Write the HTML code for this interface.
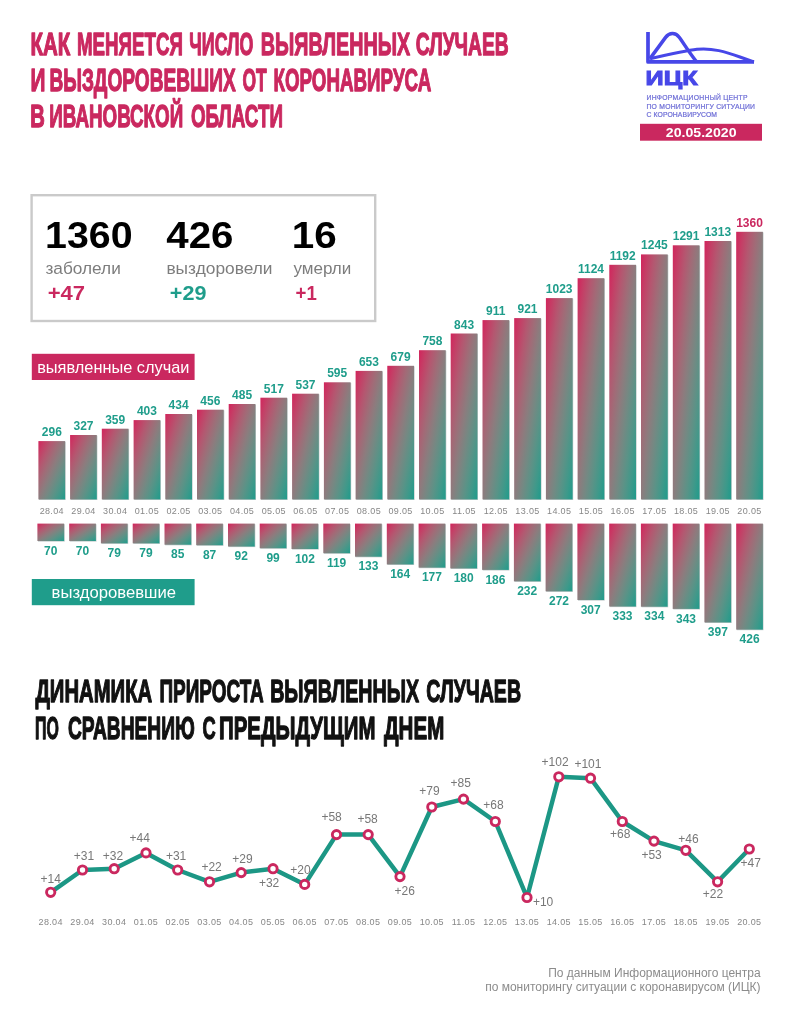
<!DOCTYPE html>
<html lang="ru"><head><meta charset="utf-8"><title>Коронавирус в Ивановской области</title>
<style>
html,body{margin:0;padding:0;background:#fff}
body{width:794px;height:1024px;overflow:hidden;font-family:"Liberation Sans",sans-serif}
svg{display:block}
text{font-family:"Liberation Sans",sans-serif}
.t1{font-weight:bold;font-size:31.5px;fill:#ca285f;stroke:#ca285f;stroke-width:1.3px;stroke-linejoin:round}
.t2{font-weight:bold;font-size:31.5px;fill:#111;stroke:#111;stroke-width:1.3px;stroke-linejoin:round}
.v{font-weight:bold;font-size:12px;fill:#1f9d8b;text-anchor:middle}
.d{font-size:9px;letter-spacing:.35px;fill:#878787;text-anchor:middle}
.g{font-size:12px;fill:#777}
.big{font-weight:bold;font-size:36px;fill:#000}
.lab{font-size:16.8px;fill:#7d7d7d}
.dl{font-weight:bold;font-size:20px}
.tag{font-size:17px;fill:#fff}
.ft{font-size:12px;fill:#8c8c8c;text-anchor:end}
.lg{font-size:6.8px;fill:#6c6cd6;stroke:#6c6cd6;stroke-width:.2px}
</style></head><body>
<svg width="794" height="1024" viewBox="0 0 794 1024">
<defs>
<linearGradient id="gb" x1="0" y1="0" x2="1" y2="1"><stop offset="0.000" stop-color="#d2245c"/><stop offset="0.125" stop-color="#c43f66"/><stop offset="0.250" stop-color="#b45770"/><stop offset="0.375" stop-color="#a16b77"/><stop offset="0.500" stop-color="#8c7c7e"/><stop offset="0.625" stop-color="#748983"/><stop offset="0.750" stop-color="#5a9387"/><stop offset="0.875" stop-color="#3e998a"/><stop offset="1.000" stop-color="#1f9b8b"/></linearGradient>
</defs>
<rect width="794" height="1024" fill="#fff"/>

<g class="t1"><text x="30.40" y="55.1" textLength="39.80" lengthAdjust="spacingAndGlyphs">КАК</text> <text x="77.03" y="55.1" textLength="105.84" lengthAdjust="spacingAndGlyphs">МЕНЯЕТСЯ</text> <text x="189.33" y="55.1" textLength="64.14" lengthAdjust="spacingAndGlyphs">ЧИСЛО</text> <text x="260.85" y="55.1" textLength="149.25" lengthAdjust="spacingAndGlyphs">ВЫЯВЛЕННЫХ</text> <text x="415.74" y="55.1" textLength="93.00" lengthAdjust="spacingAndGlyphs">СЛУЧАЕВ</text></g>
<g class="t1"><text x="30.39" y="90.8" textLength="14.95" lengthAdjust="spacingAndGlyphs">И</text> <text x="49.39" y="90.8" textLength="186.30" lengthAdjust="spacingAndGlyphs">ВЫЗДОРОВЕВШИХ</text> <text x="242.43" y="90.8" textLength="24.28" lengthAdjust="spacingAndGlyphs">ОТ</text> <text x="273.47" y="90.8" textLength="157.75" lengthAdjust="spacingAndGlyphs">КОРОНАВИРУСА</text></g>
<g class="t1"><text x="30.21" y="126.7" textLength="14.57" lengthAdjust="spacingAndGlyphs">В</text> <text x="49.27" y="126.7" textLength="133.91" lengthAdjust="spacingAndGlyphs">ИВАНОВСКОЙ</text> <text x="190.89" y="126.7" textLength="92.09" lengthAdjust="spacingAndGlyphs">ОБЛАСТИ</text></g>
<g fill="none" stroke="#4747e8" stroke-width="3.7" stroke-linejoin="round">
<path d="M648 32 V61.9 H754"/>
<path d="M650 58.6 L665.6 37.4 C669.4 32.4 675.4 32.2 679.2 37.2 C683.6 43 688 51 696.4 61.5" stroke-width="3.5"/>
<path stroke-width="3" d="M650 58.8 C664 55.6 686 50.6 697 49.3 C712 47.6 726 52 740 57 C746 59.2 750 60.6 754 61.9"/>
</g>
<text x="645.6" y="85.3" font-weight="bold" font-size="20" fill="#4747e8" stroke="#4747e8" stroke-width="1" textLength="52" lengthAdjust="spacingAndGlyphs">ИЦК</text>
<text class="lg" x="646.5" y="100.2" textLength="101" lengthAdjust="spacing">ИНФОРМАЦИОННЫЙ ЦЕНТР</text>
<text class="lg" x="646.5" y="108.9" textLength="108.5" lengthAdjust="spacing">ПО МОНИТОРИНГУ СИТУАЦИИ</text>
<text class="lg" x="646.5" y="117.2" textLength="70.5" lengthAdjust="spacing">С КОРОНАВИРУСОМ</text>
<rect x="640" y="123.8" width="122" height="16.9" fill="#ca285f"/>
<text x="701.2" y="137.3" font-weight="bold" font-size="13" fill="#fff" text-anchor="middle" textLength="70.8" lengthAdjust="spacingAndGlyphs">20.05.2020</text>
<rect x="31.6" y="195.2" width="343.6" height="125.8" fill="#fff" stroke="#cacaca" stroke-width="2.4"/>
<text class="big" x="45.10" y="248.0" textLength="87.52" lengthAdjust="spacingAndGlyphs">1360</text>
<text class="big" x="166.34" y="248.0" textLength="67.15" lengthAdjust="spacingAndGlyphs">426</text>
<text class="big" x="291.89" y="248.0" textLength="44.99" lengthAdjust="spacingAndGlyphs">16</text>
<text class="lab" x="45.43" y="273.6" textLength="75.35" lengthAdjust="spacingAndGlyphs">заболели</text>
<text class="lab" x="166.41" y="273.6" textLength="106.12" lengthAdjust="spacingAndGlyphs">выздоровели</text>
<text class="lab" x="293.44" y="273.6" textLength="57.87" lengthAdjust="spacingAndGlyphs">умерли</text>
<text class="dl" x="47.74" y="299.6" textLength="37.39" lengthAdjust="spacingAndGlyphs" fill="#ca285f">+47</text>
<text class="dl" x="169.84" y="299.6" textLength="36.58" lengthAdjust="spacingAndGlyphs" fill="#1f9d8b">+29</text>
<text class="dl" x="295.60" y="299.6" textLength="21.22" lengthAdjust="spacingAndGlyphs" fill="#ca285f">+1</text>
<rect x="31.8" y="353.8" width="162.8" height="26.2" fill="#ca285f"/>
<text class="tag" x="37.18" y="372.7" textLength="152.31" lengthAdjust="spacingAndGlyphs">выявленные случаи</text>
<rect x="31.8" y="579" width="162.8" height="26.2" fill="#1f9d8b"/>
<text class="tag" x="51.62" y="597.7" textLength="124.46" lengthAdjust="spacingAndGlyphs">выздоровевшие</text>
<rect x="39.0" y="441.7" width="26.7" height="58.3" fill="#2b4a48" opacity=".3"/>
<rect x="38.4" y="441.1" width="26.7" height="58.3" fill="url(#gb)"/>
<text class="v" x="51.8" y="436.1">296</text>
<text class="d" x="51.8" y="514">28.04</text>
<rect x="38.0" y="524.2" width="26.7" height="17.4" fill="#2b4a48" opacity=".3"/>
<rect x="37.4" y="523.6" width="26.7" height="17.4" fill="url(#gb)"/>
<text class="v" x="50.8" y="554.6">70</text>
<rect x="70.7" y="435.6" width="26.7" height="64.4" fill="#2b4a48" opacity=".3"/>
<rect x="70.1" y="435.0" width="26.7" height="64.4" fill="url(#gb)"/>
<text class="v" x="83.5" y="430.0">327</text>
<text class="d" x="83.5" y="514">29.04</text>
<rect x="69.8" y="524.2" width="26.7" height="17.4" fill="#2b4a48" opacity=".3"/>
<rect x="69.2" y="523.6" width="26.7" height="17.4" fill="url(#gb)"/>
<text class="v" x="82.5" y="554.6">70</text>
<rect x="102.4" y="429.3" width="26.7" height="70.7" fill="#2b4a48" opacity=".3"/>
<rect x="101.8" y="428.7" width="26.7" height="70.7" fill="url(#gb)"/>
<text class="v" x="115.2" y="423.7">359</text>
<text class="d" x="115.2" y="514">30.04</text>
<rect x="101.5" y="524.2" width="26.7" height="19.7" fill="#2b4a48" opacity=".3"/>
<rect x="100.9" y="523.6" width="26.7" height="19.7" fill="url(#gb)"/>
<text class="v" x="114.3" y="556.9">79</text>
<rect x="134.2" y="420.7" width="26.7" height="79.3" fill="#2b4a48" opacity=".3"/>
<rect x="133.6" y="420.1" width="26.7" height="79.3" fill="url(#gb)"/>
<text class="v" x="146.9" y="415.1">403</text>
<text class="d" x="146.9" y="514">01.05</text>
<rect x="133.3" y="524.2" width="26.7" height="19.7" fill="#2b4a48" opacity=".3"/>
<rect x="132.7" y="523.6" width="26.7" height="19.7" fill="url(#gb)"/>
<text class="v" x="146.0" y="556.9">79</text>
<rect x="165.9" y="414.6" width="26.7" height="85.4" fill="#2b4a48" opacity=".3"/>
<rect x="165.3" y="414.0" width="26.7" height="85.4" fill="url(#gb)"/>
<text class="v" x="178.6" y="409.0">434</text>
<text class="d" x="178.6" y="514">02.05</text>
<rect x="165.1" y="524.2" width="26.7" height="21.1" fill="#2b4a48" opacity=".3"/>
<rect x="164.5" y="523.6" width="26.7" height="21.1" fill="url(#gb)"/>
<text class="v" x="177.8" y="558.3">85</text>
<rect x="197.6" y="410.3" width="26.7" height="89.7" fill="#2b4a48" opacity=".3"/>
<rect x="197.0" y="409.7" width="26.7" height="89.7" fill="url(#gb)"/>
<text class="v" x="210.3" y="404.7">456</text>
<text class="d" x="210.3" y="514">03.05</text>
<rect x="196.8" y="524.2" width="26.7" height="21.6" fill="#2b4a48" opacity=".3"/>
<rect x="196.2" y="523.6" width="26.7" height="21.6" fill="url(#gb)"/>
<text class="v" x="209.6" y="558.8">87</text>
<rect x="229.3" y="404.6" width="26.7" height="95.4" fill="#2b4a48" opacity=".3"/>
<rect x="228.7" y="404.0" width="26.7" height="95.4" fill="url(#gb)"/>
<text class="v" x="242.1" y="399.0">485</text>
<text class="d" x="242.1" y="514">04.05</text>
<rect x="228.6" y="524.2" width="26.7" height="22.9" fill="#2b4a48" opacity=".3"/>
<rect x="228.0" y="523.6" width="26.7" height="22.9" fill="url(#gb)"/>
<text class="v" x="241.3" y="560.1">92</text>
<rect x="261.0" y="398.3" width="26.7" height="101.7" fill="#2b4a48" opacity=".3"/>
<rect x="260.4" y="397.7" width="26.7" height="101.7" fill="url(#gb)"/>
<text class="v" x="273.8" y="392.7">517</text>
<text class="d" x="273.8" y="514">05.05</text>
<rect x="260.3" y="524.2" width="26.7" height="24.6" fill="#2b4a48" opacity=".3"/>
<rect x="259.7" y="523.6" width="26.7" height="24.6" fill="url(#gb)"/>
<text class="v" x="273.1" y="561.8">99</text>
<rect x="292.7" y="394.3" width="26.7" height="105.7" fill="#2b4a48" opacity=".3"/>
<rect x="292.1" y="393.7" width="26.7" height="105.7" fill="url(#gb)"/>
<text class="v" x="305.5" y="388.7">537</text>
<text class="d" x="305.5" y="514">06.05</text>
<rect x="292.1" y="524.2" width="26.7" height="25.4" fill="#2b4a48" opacity=".3"/>
<rect x="291.5" y="523.6" width="26.7" height="25.4" fill="url(#gb)"/>
<text class="v" x="304.9" y="562.6">102</text>
<rect x="324.5" y="382.9" width="26.7" height="117.1" fill="#2b4a48" opacity=".3"/>
<rect x="323.9" y="382.3" width="26.7" height="117.1" fill="url(#gb)"/>
<text class="v" x="337.2" y="377.3">595</text>
<text class="d" x="337.2" y="514">07.05</text>
<rect x="323.9" y="524.2" width="26.7" height="29.6" fill="#2b4a48" opacity=".3"/>
<rect x="323.3" y="523.6" width="26.7" height="29.6" fill="url(#gb)"/>
<text class="v" x="336.6" y="566.8">119</text>
<rect x="356.2" y="371.5" width="26.7" height="128.5" fill="#2b4a48" opacity=".3"/>
<rect x="355.6" y="370.9" width="26.7" height="128.5" fill="url(#gb)"/>
<text class="v" x="368.9" y="365.9">653</text>
<text class="d" x="368.9" y="514">08.05</text>
<rect x="355.6" y="524.2" width="26.7" height="33.1" fill="#2b4a48" opacity=".3"/>
<rect x="355.0" y="523.6" width="26.7" height="33.1" fill="url(#gb)"/>
<text class="v" x="368.4" y="570.3">133</text>
<rect x="387.9" y="366.4" width="26.7" height="133.6" fill="#2b4a48" opacity=".3"/>
<rect x="387.3" y="365.8" width="26.7" height="133.6" fill="url(#gb)"/>
<text class="v" x="400.6" y="360.8">679</text>
<text class="d" x="400.6" y="514">09.05</text>
<rect x="387.4" y="524.2" width="26.7" height="40.8" fill="#2b4a48" opacity=".3"/>
<rect x="386.8" y="523.6" width="26.7" height="40.8" fill="url(#gb)"/>
<text class="v" x="400.2" y="578.0">164</text>
<rect x="419.6" y="350.8" width="26.7" height="149.2" fill="#2b4a48" opacity=".3"/>
<rect x="419.0" y="350.2" width="26.7" height="149.2" fill="url(#gb)"/>
<text class="v" x="432.4" y="345.2">758</text>
<text class="d" x="432.4" y="514">10.05</text>
<rect x="419.2" y="524.2" width="26.7" height="44.0" fill="#2b4a48" opacity=".3"/>
<rect x="418.6" y="523.6" width="26.7" height="44.0" fill="url(#gb)"/>
<text class="v" x="431.9" y="581.2">177</text>
<rect x="451.3" y="334.1" width="26.7" height="165.9" fill="#2b4a48" opacity=".3"/>
<rect x="450.7" y="333.5" width="26.7" height="165.9" fill="url(#gb)"/>
<text class="v" x="464.1" y="328.5">843</text>
<text class="d" x="464.1" y="514">11.05</text>
<rect x="450.9" y="524.2" width="26.7" height="44.8" fill="#2b4a48" opacity=".3"/>
<rect x="450.3" y="523.6" width="26.7" height="44.8" fill="url(#gb)"/>
<text class="v" x="463.7" y="582.0">180</text>
<rect x="483.1" y="320.7" width="26.7" height="179.3" fill="#2b4a48" opacity=".3"/>
<rect x="482.5" y="320.1" width="26.7" height="179.3" fill="url(#gb)"/>
<text class="v" x="495.8" y="315.1">911</text>
<text class="d" x="495.8" y="514">12.05</text>
<rect x="482.7" y="524.2" width="26.7" height="46.3" fill="#2b4a48" opacity=".3"/>
<rect x="482.1" y="523.6" width="26.7" height="46.3" fill="url(#gb)"/>
<text class="v" x="495.4" y="583.5">186</text>
<rect x="514.8" y="318.7" width="26.7" height="181.3" fill="#2b4a48" opacity=".3"/>
<rect x="514.2" y="318.1" width="26.7" height="181.3" fill="url(#gb)"/>
<text class="v" x="527.5" y="313.1">921</text>
<text class="d" x="527.5" y="514">13.05</text>
<rect x="514.5" y="524.2" width="26.7" height="57.7" fill="#2b4a48" opacity=".3"/>
<rect x="513.9" y="523.6" width="26.7" height="57.7" fill="url(#gb)"/>
<text class="v" x="527.2" y="594.9">232</text>
<rect x="546.5" y="298.7" width="26.7" height="201.3" fill="#2b4a48" opacity=".3"/>
<rect x="545.9" y="298.1" width="26.7" height="201.3" fill="url(#gb)"/>
<text class="v" x="559.2" y="293.1">1023</text>
<text class="d" x="559.2" y="514">14.05</text>
<rect x="546.2" y="524.2" width="26.7" height="67.7" fill="#2b4a48" opacity=".3"/>
<rect x="545.6" y="523.6" width="26.7" height="67.7" fill="url(#gb)"/>
<text class="v" x="559.0" y="604.9">272</text>
<rect x="578.2" y="278.8" width="26.7" height="221.2" fill="#2b4a48" opacity=".3"/>
<rect x="577.6" y="278.2" width="26.7" height="221.2" fill="url(#gb)"/>
<text class="v" x="591.0" y="273.2">1124</text>
<text class="d" x="591.0" y="514">15.05</text>
<rect x="578.0" y="524.2" width="26.7" height="76.4" fill="#2b4a48" opacity=".3"/>
<rect x="577.4" y="523.6" width="26.7" height="76.4" fill="url(#gb)"/>
<text class="v" x="590.7" y="613.6">307</text>
<rect x="609.9" y="265.4" width="26.7" height="234.6" fill="#2b4a48" opacity=".3"/>
<rect x="609.3" y="264.8" width="26.7" height="234.6" fill="url(#gb)"/>
<text class="v" x="622.7" y="259.8">1192</text>
<text class="d" x="622.7" y="514">16.05</text>
<rect x="609.8" y="524.2" width="26.7" height="82.9" fill="#2b4a48" opacity=".3"/>
<rect x="609.2" y="523.6" width="26.7" height="82.9" fill="url(#gb)"/>
<text class="v" x="622.5" y="620.1">333</text>
<rect x="641.6" y="255.0" width="26.7" height="245.0" fill="#2b4a48" opacity=".3"/>
<rect x="641.0" y="254.4" width="26.7" height="245.0" fill="url(#gb)"/>
<text class="v" x="654.4" y="249.4">1245</text>
<text class="d" x="654.4" y="514">17.05</text>
<rect x="641.5" y="524.2" width="26.7" height="83.1" fill="#2b4a48" opacity=".3"/>
<rect x="640.9" y="523.6" width="26.7" height="83.1" fill="url(#gb)"/>
<text class="v" x="654.3" y="620.3">334</text>
<rect x="673.4" y="245.9" width="26.7" height="254.1" fill="#2b4a48" opacity=".3"/>
<rect x="672.8" y="245.3" width="26.7" height="254.1" fill="url(#gb)"/>
<text class="v" x="686.1" y="240.3">1291</text>
<text class="d" x="686.1" y="514">18.05</text>
<rect x="673.3" y="524.2" width="26.7" height="85.3" fill="#2b4a48" opacity=".3"/>
<rect x="672.7" y="523.6" width="26.7" height="85.3" fill="url(#gb)"/>
<text class="v" x="686.0" y="622.5">343</text>
<rect x="705.1" y="241.6" width="26.7" height="258.4" fill="#2b4a48" opacity=".3"/>
<rect x="704.5" y="241.0" width="26.7" height="258.4" fill="url(#gb)"/>
<text class="v" x="717.8" y="236.0">1313</text>
<text class="d" x="717.8" y="514">19.05</text>
<rect x="705.0" y="524.2" width="26.7" height="98.8" fill="#2b4a48" opacity=".3"/>
<rect x="704.4" y="523.6" width="26.7" height="98.8" fill="url(#gb)"/>
<text class="v" x="717.8" y="636.0">397</text>
<rect x="736.8" y="232.4" width="26.7" height="267.6" fill="#2b4a48" opacity=".3"/>
<rect x="736.2" y="231.8" width="26.7" height="267.6" fill="url(#gb)"/>
<text class="v" style="fill:#ca285f" x="749.5" y="226.8">1360</text>
<text class="d" x="749.5" y="514">20.05</text>
<rect x="736.8" y="524.2" width="26.7" height="106.0" fill="#2b4a48" opacity=".3"/>
<rect x="736.2" y="523.6" width="26.7" height="106.0" fill="url(#gb)"/>
<text class="v" x="749.6" y="643.2">426</text>
<g class="t2"><text x="35.40" y="702.1" textLength="116.76" lengthAdjust="spacingAndGlyphs">ДИНАМИКА</text> <text x="159.44" y="702.1" textLength="104.27" lengthAdjust="spacingAndGlyphs">ПРИРОСТА</text> <text x="270.13" y="702.1" textLength="149.00" lengthAdjust="spacingAndGlyphs">ВЫЯВЛЕННЫХ</text> <text x="426.34" y="702.1" textLength="94.72" lengthAdjust="spacingAndGlyphs">СЛУЧАЕВ</text></g>
<g class="t2"><text x="35.10" y="738.5" textLength="23.80" lengthAdjust="spacingAndGlyphs">ПО</text> <text x="67.93" y="738.5" textLength="126.86" lengthAdjust="spacingAndGlyphs">СРАВНЕНИЮ</text> <text x="202.44" y="738.5" textLength="13.23" lengthAdjust="spacingAndGlyphs">С</text> <text x="219.02" y="738.5" textLength="156.53" lengthAdjust="spacingAndGlyphs">ПРЕДЫДУЩИМ</text> <text x="383.99" y="738.5" textLength="60.26" lengthAdjust="spacingAndGlyphs">ДНЕМ</text></g>
<polyline fill="none" stroke="#1c9785" stroke-width="4.5" stroke-linejoin="round" points="50.7,892.3 82.5,870.0 114.2,868.7 146.0,852.9 177.7,870.0 209.5,881.8 241.2,872.6 273.0,868.7 304.7,884.4 336.5,834.6 368.2,834.6 400.0,876.6 431.8,807.0 463.5,799.1 495.3,821.5 527.0,897.5 558.8,776.8 590.5,778.2 622.3,821.5 654.0,841.1 685.8,850.3 717.6,881.8 749.3,849.0"/>
<circle cx="50.7" cy="892.3" r="4.15" fill="#fff" stroke="#ca285f" stroke-width="2.9"/>
<text class="g" text-anchor="middle" x="50.7" y="883.0">+14</text>
<text class="d" x="50.7" y="925.2">28.04</text>
<circle cx="82.5" cy="870.0" r="4.15" fill="#fff" stroke="#ca285f" stroke-width="2.9"/>
<text class="g" text-anchor="middle" x="84.0" y="859.9">+31</text>
<text class="d" x="82.5" y="925.2">29.04</text>
<circle cx="114.2" cy="868.7" r="4.15" fill="#fff" stroke="#ca285f" stroke-width="2.9"/>
<text class="g" text-anchor="middle" x="112.9" y="859.9">+32</text>
<text class="d" x="114.2" y="925.2">30.04</text>
<circle cx="146.0" cy="852.9" r="4.15" fill="#fff" stroke="#ca285f" stroke-width="2.9"/>
<text class="g" text-anchor="middle" x="139.7" y="842.4">+44</text>
<text class="d" x="146.0" y="925.2">01.05</text>
<circle cx="177.7" cy="870.0" r="4.15" fill="#fff" stroke="#ca285f" stroke-width="2.9"/>
<text class="g" text-anchor="middle" x="176.1" y="860.2">+31</text>
<text class="d" x="177.7" y="925.2">02.05</text>
<circle cx="209.5" cy="881.8" r="4.15" fill="#fff" stroke="#ca285f" stroke-width="2.9"/>
<text class="g" text-anchor="middle" x="211.6" y="871.0">+22</text>
<text class="d" x="209.5" y="925.2">03.05</text>
<circle cx="241.2" cy="872.6" r="4.15" fill="#fff" stroke="#ca285f" stroke-width="2.9"/>
<text class="g" text-anchor="middle" x="242.4" y="863.3">+29</text>
<text class="d" x="241.2" y="925.2">04.05</text>
<circle cx="273.0" cy="868.7" r="4.15" fill="#fff" stroke="#ca285f" stroke-width="2.9"/>
<text class="g" text-anchor="middle" x="269.1" y="886.6">+32</text>
<text class="d" x="273.0" y="925.2">05.05</text>
<circle cx="304.7" cy="884.4" r="4.15" fill="#fff" stroke="#ca285f" stroke-width="2.9"/>
<text class="g" text-anchor="middle" x="300.5" y="873.8">+20</text>
<text class="d" x="304.7" y="925.2">06.05</text>
<circle cx="336.5" cy="834.6" r="4.15" fill="#fff" stroke="#ca285f" stroke-width="2.9"/>
<text class="g" text-anchor="middle" x="331.6" y="821.3">+58</text>
<text class="d" x="336.5" y="925.2">07.05</text>
<circle cx="368.2" cy="834.6" r="4.15" fill="#fff" stroke="#ca285f" stroke-width="2.9"/>
<text class="g" text-anchor="middle" x="367.6" y="823.3">+58</text>
<text class="d" x="368.2" y="925.2">08.05</text>
<circle cx="400.0" cy="876.6" r="4.15" fill="#fff" stroke="#ca285f" stroke-width="2.9"/>
<text class="g" text-anchor="middle" x="404.8" y="894.8">+26</text>
<text class="d" x="400.0" y="925.2">09.05</text>
<circle cx="431.8" cy="807.0" r="4.15" fill="#fff" stroke="#ca285f" stroke-width="2.9"/>
<text class="g" text-anchor="middle" x="429.4" y="794.6">+79</text>
<text class="d" x="431.8" y="925.2">10.05</text>
<circle cx="463.5" cy="799.1" r="4.15" fill="#fff" stroke="#ca285f" stroke-width="2.9"/>
<text class="g" text-anchor="middle" x="460.8" y="787.0">+85</text>
<text class="d" x="463.5" y="925.2">11.05</text>
<circle cx="495.3" cy="821.5" r="4.15" fill="#fff" stroke="#ca285f" stroke-width="2.9"/>
<text class="g" text-anchor="middle" x="493.5" y="808.9">+68</text>
<text class="d" x="495.3" y="925.2">12.05</text>
<circle cx="527.0" cy="897.5" r="4.15" fill="#fff" stroke="#ca285f" stroke-width="2.9"/>
<text class="g" text-anchor="middle" x="543.1" y="905.5">+10</text>
<text class="d" x="527.0" y="925.2">13.05</text>
<circle cx="558.8" cy="776.8" r="4.15" fill="#fff" stroke="#ca285f" stroke-width="2.9"/>
<text class="g" text-anchor="middle" x="555.1" y="766.0">+102</text>
<text class="d" x="558.8" y="925.2">14.05</text>
<circle cx="590.5" cy="778.2" r="4.15" fill="#fff" stroke="#ca285f" stroke-width="2.9"/>
<text class="g" text-anchor="middle" x="587.9" y="768.1">+101</text>
<text class="d" x="590.5" y="925.2">15.05</text>
<circle cx="622.3" cy="821.5" r="4.15" fill="#fff" stroke="#ca285f" stroke-width="2.9"/>
<text class="g" text-anchor="middle" x="620.3" y="838.4">+68</text>
<text class="d" x="622.3" y="925.2">16.05</text>
<circle cx="654.0" cy="841.1" r="4.15" fill="#fff" stroke="#ca285f" stroke-width="2.9"/>
<text class="g" text-anchor="middle" x="651.6" y="858.7">+53</text>
<text class="d" x="654.0" y="925.2">17.05</text>
<circle cx="685.8" cy="850.3" r="4.15" fill="#fff" stroke="#ca285f" stroke-width="2.9"/>
<text class="g" text-anchor="middle" x="688.5" y="843.2">+46</text>
<text class="d" x="685.8" y="925.2">18.05</text>
<circle cx="717.6" cy="881.8" r="4.15" fill="#fff" stroke="#ca285f" stroke-width="2.9"/>
<text class="g" text-anchor="middle" x="712.9" y="897.7">+22</text>
<text class="d" x="717.6" y="925.2">19.05</text>
<circle cx="749.3" cy="849.0" r="4.15" fill="#fff" stroke="#ca285f" stroke-width="2.9"/>
<text class="g" text-anchor="middle" x="750.7" y="866.7">+47</text>
<text class="d" x="749.3" y="925.2">20.05</text>
<text class="ft" x="760.6" y="977">По данным Информационного центра</text>
<text class="ft" x="760.6" y="991">по мониторингу ситуации с коронавирусом (ИЦК)</text>
</svg></body></html>
